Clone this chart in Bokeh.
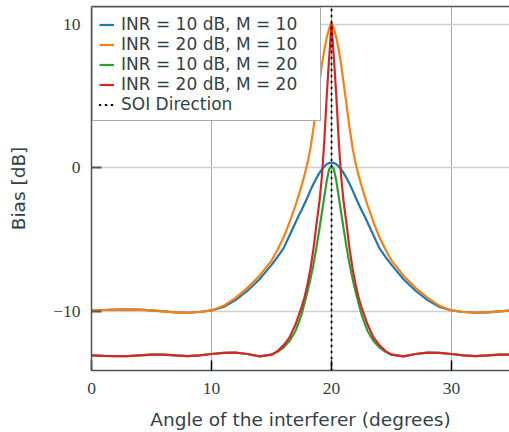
from bokeh.plotting import figure
from bokeh.models import (Legend, LegendItem, LinearAxis, FixedTicker, Range1d,
                          ColumnDataSource)
from bokeh.embed import file_html
from bokeh.resources import INLINE

# ---------------- data ----------------
angle = [0, 1, 2, 3, 4, 5, 6, 7, 8, 9, 10, 11, 12, 13, 14, 15, 15.5, 16, 16.5, 17,
         17.25, 17.5, 17.75, 18, 18.25, 18.5, 18.75, 19, 19.2, 19.4, 19.6, 19.8, 20,
         20.2, 20.4, 20.6, 20.8, 21, 21.25, 21.5, 21.75, 22, 22.25, 22.5, 22.75, 23,
         23.5, 24, 24.5, 25, 26, 27, 28, 29, 30, 31, 32, 33, 34, 35]

bias_inr10_m10 = [-9.9, -9.89, -9.86, -9.85, -9.87, -9.92, -9.98, -10.05, -10.08, -10.03,
                  -9.92, -9.68, -9.2, -8.55, -7.75, -6.75, -6.2, -5.6, -4.7, -3.8,
                  -3.35, -2.95, -2.5, -2.05, -1.55, -1.1, -0.7, -0.35, -0.1, 0.1, 0.25, 0.34, 0.37,
                  0.34, 0.25, 0.1, -0.1, -0.35, -0.7, -1.1, -1.55, -2.05, -2.5, -2.95, -3.35, -3.8,
                  -4.7, -5.6, -6.2, -6.75, -7.75, -8.55, -9.2, -9.68, -9.92, -10.03, -10.08, -10.05,
                  -9.98, -9.92]

bias_inr20_m10 = [-9.9, -9.89, -9.86, -9.85, -9.87, -9.92, -9.98, -10.05, -10.08, -10.03,
                  -9.92, -9.6, -9.05, -8.35, -7.5, -6.45, -5.7, -4.85, -3.8, -2.6,
                  -1.95, -1.25, -0.5, 0.35, 1.4, 2.8, 4.4, 5.95, 7.2, 8.2, 9.05, 9.7, 10.1,
                  9.7, 9.05, 8.2, 7.2, 5.95, 4.4, 2.8, 1.4, 0.35, -0.5, -1.25, -1.95, -2.6,
                  -3.8, -4.85, -5.7, -6.45, -7.5, -8.35, -9.05, -9.6, -9.92, -10.03, -10.08, -10.05,
                  -9.98, -9.92]

bias_inr10_m20 = [-13.05, -13.08, -13.1, -13.1, -13.05, -13.0, -12.99, -13.05, -13.1, -13.05,
                  -12.95, -12.87, -12.86, -12.95, -13.12, -13.0, -12.8, -12.5, -12.05, -11.35,
                  -10.8, -10.2, -9.4, -8.6, -7.7, -6.7, -5.5, -4.2, -3.1, -2.0, -0.9, -0.1, 0.14,
                  -0.1, -0.9, -2.0, -3.1, -4.2, -5.5, -6.7, -7.7, -8.6, -9.4, -10.2, -10.8, -11.35,
                  -12.05, -12.5, -12.8, -13.0, -13.12, -12.95, -12.86, -12.87, -12.95, -13.05, -13.1,
                  -13.05, -12.99, -13.0]

bias_inr20_m20 = [-13.05, -13.08, -13.1, -13.1, -13.05, -13.0, -12.99, -13.05, -13.1, -13.05,
                  -12.95, -12.87, -12.86, -12.95, -13.12, -13.0, -12.75, -12.35, -11.8, -10.9,
                  -10.3, -9.7, -9.0, -8.1, -7.0, -5.6, -3.9, -2.3, -0.6, 1.9, 5.0, 7.6, 10.1,
                  7.6, 5.0, 1.9, -0.6, -2.3, -3.9, -5.6, -7.0, -8.1, -9.0, -9.7, -10.3, -10.9,
                  -11.8, -12.35, -12.75, -13.0, -13.12, -12.95, -12.86, -12.87, -12.95, -13.05, -13.1,
                  -13.05, -12.99, -13.0]

series_labels = ["INR = 10 dB, M = 10", "INR = 20 dB, M = 10",
                 "INR = 10 dB, M = 20", "INR = 20 dB, M = 20"]
series_colors = ["#1f77b4", "#ff7f0e", "#2ca02c", "#d62728"]
soi_label = "SOI Direction"
soi_angle = 20

x_ticks = [0, 10, 20, 30]
x_tick_labels = ["0", "10", "20", "30"]
y_ticks = [-10, 0, 10]
y_tick_labels = ["\u221210", "0", "10"]

x_limits = (0, 34.83)
y_limits = (-14.1, 11.23)

TEXT = "#333f45"
SPINE = "#4a565c"
SANS = "DejaVu Sans"
SERIF = "Liberation Serif"

# ---------------- figure ----------------
p = figure(width=509, height=432, output_backend="svg", toolbar_location=None,
           x_range=Range1d(*x_limits), y_range=Range1d(*y_limits),
           min_border_left=91, min_border_right=0, min_border_top=6,
           min_border_bottom=61)
p.outline_line_color = None
p.background_fill_color = "white"
p.border_fill_color = "white"

# grid
p.xgrid.ticker = FixedTicker(ticks=x_ticks)
p.ygrid.ticker = FixedTicker(ticks=y_ticks)
p.xgrid.grid_line_color = "#a9a9a9"
p.xgrid.grid_line_width = 1
p.ygrid.grid_line_color = "#cfcfcf"
p.ygrid.grid_line_width = 1.5

# x axis
xa = p.xaxis[0]
xa.ticker = FixedTicker(ticks=x_ticks)
xa.major_label_overrides = {t: s for t, s in zip(x_ticks, x_tick_labels)}
xa.axis_label = "Angle of the interferer (degrees)"
xa.axis_label_text_font = SANS
xa.axis_label_text_font_size = "18.5px"
xa.axis_label_text_font_style = "normal"
xa.axis_label_text_color = TEXT
xa.axis_label_standoff = 12
xa.major_label_text_font = SERIF
xa.major_label_text_font_size = "17.5px"
xa.major_label_text_color = TEXT
xa.major_label_standoff = 12
xa.major_tick_in = 10
xa.major_tick_out = 0
xa.major_tick_line_color = "black"
xa.major_tick_line_width = 1.5
xa.minor_tick_line_color = None
xa.axis_line_color = SPINE
xa.axis_line_width = 1.5

# y axis
ya = p.yaxis[0]
ya.ticker = FixedTicker(ticks=y_ticks)
ya.major_label_overrides = {t: s for t, s in zip(y_ticks, y_tick_labels)}
ya.axis_label = "Bias [dB]"
ya.axis_label_text_font = SANS
ya.axis_label_text_font_size = "18.5px"
ya.axis_label_text_font_style = "normal"
ya.axis_label_text_color = TEXT
ya.axis_label_standoff = 21
ya.major_label_text_font = SERIF
ya.major_label_text_font_size = "17.5px"
ya.major_label_text_color = TEXT
ya.major_label_standoff = 11
ya.major_tick_in = 10
ya.major_tick_out = 0
ya.major_tick_line_color = "#555555"
ya.major_tick_line_width = 2
ya.minor_tick_line_color = None
ya.axis_line_color = SPINE
ya.axis_line_width = 1.5

# top spine
top = LinearAxis(ticker=FixedTicker(ticks=[]), major_label_text_font_size="0px",
                 major_tick_in=0, major_tick_out=0, minor_tick_in=0, minor_tick_out=0,
                 major_label_standoff=0, axis_line_color=SPINE, axis_line_width=1.5)
p.add_layout(top, "above")

# curves
src = ColumnDataSource(dict(angle=angle, a=bias_inr10_m10, b=bias_inr20_m10,
                            c=bias_inr10_m20, d=bias_inr20_m20))
items = []
for col, lab, colr in zip(["a", "b", "c", "d"], series_labels, series_colors):
    r = p.line("angle", col, source=src, line_color=colr, line_width=2.2)
    items.append(LegendItem(label=lab, renderers=[r]))

soi = p.line([soi_angle, soi_angle], [y_limits[0], y_limits[1]], line_color="black",
             line_width=1.8, line_dash="1 5", line_cap="round")
items.append(LegendItem(label=soi_label, renderers=[soi]))

legend = Legend(items=items, location="top_left", margin=1, padding=6,
                spacing=0, glyph_width=15, glyph_height=19, label_height=19,
                label_width=193, label_standoff=7, label_text_font=SANS,
                label_text_font_size="17px", label_text_line_height=1.05,
                label_text_color=TEXT, border_line_color="#555555",
                border_line_width=1.5, background_fill_alpha=1.0)
p.add_layout(legend)

open("out.html", "w").write(file_html(p, INLINE))
